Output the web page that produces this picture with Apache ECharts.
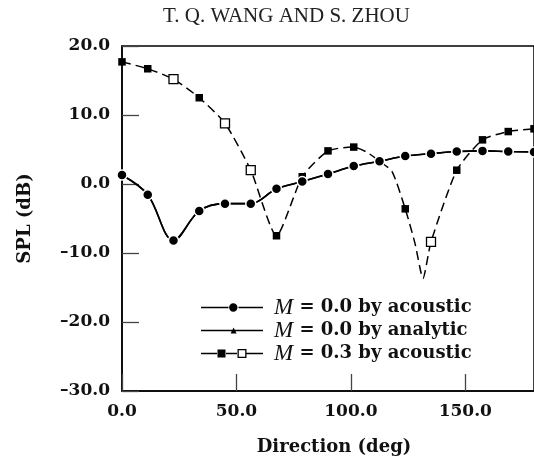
<!DOCTYPE html>
<html>
<head>
<meta charset="utf-8">
<title>SPL vs direction</title>
<script src="https://cdn.jsdelivr.net/npm/echarts@6/dist/echarts.min.js"></script>
<style>
    html, body { margin: 0; padding: 0; background: #fff; }
    #chart { width: 534px; height: 463px; }
</style>
</head>
<body>
<div id="chart"></div>
<script>
// direction (deg) of the measured points
const directions = [0, 11.25, 22.5, 33.75, 45, 56.25, 67.5, 78.75, 90, 101.25, 112.5, 123.75, 135, 146.25, 157.5, 168.75, 180];
// M = 0.0, acoustic analogy (circles)
const acousticM0 = [1.3, -1.55, -8.2, -3.9, -2.85, -2.85, -0.7, 0.35, 1.45, 2.6, 3.3, 4.05, 4.4, 4.7, 4.8, 4.7, 4.65];
// M = 0.0, analytic solution (solid line, lies on top of the acoustic curve)
const analyticM0 = [1.3, -1.55, -8.2, -3.9, -2.85, -2.85, -0.7, 0.35, 1.45, 2.6, 3.3, 4.05, 4.4, 4.7, 4.8, 4.7, 4.65];
// M = 0.3, acoustic analogy: curve, with marker kind per point
const directionsM3 = [0, 11.25, 22.5, 33.75, 45, 56.25, 67.5, 78.75, 90, 101.25, 107, 112.5, 118, 123.75, 128, 131.5, 135, 146.25, 157.5, 168.75, 180];
const acousticM3 = [17.7, 16.7, 15.2, 12.5, 8.8, 2.0, -7.5, 1.05, 4.8, 5.35, 4.6, 3.3, 1.8, -3.6, -8.6, -13.7, -8.4, 2.0, 6.4, 7.6, 8.0];
const markersM3 = ['filled', 'filled', 'open', 'filled', 'open', 'open', 'filled', 'filled', 'filled', 'filled', 'none', 'none', 'none', 'filled', 'none', 'none', 'open', 'filled', 'filled', 'filled', 'filled'];

const seriesNames = ['M = 0.0 by acoustic', 'M = 0.0 by analytic', 'M = 0.3 by acoustic'];
const xTicks = { min: 0, max: 180, interval: 50 };
const yTicks = { min: -30, max: 20, interval: 10 };

const serif = 'DejaVu Serif';

// legend keys drawn as paths: line + marker, like the printed key
const legendIcons = [
    'path://M0,6.25h27.5v1.5h-27.5z M28.1,7a4.2,4.2 0 1 0 8.4,0a4.2,4.2 0 1 0 -8.4,0z M37.5,6.25h24.5v1.5h-24.5z',
    'path://M0,6.25h62v1.5h-62z M29.6,9.9L32.6,4.1L35.6,9.9z',
    'path://M0,6.25h16v1.5h-16z M16.5,3h8v8h-8z M25,6.25h11v1.5h-11z M36.5,2.5h9v9h-9z M37.8,3.8v6.4h6.4v-6.4z M45.5,6.25h16.5v1.5h-16.5z'
];

const fmt = (v) => (v < 0 ? '\u2013' + Math.abs(v).toFixed(1) : v.toFixed(1));

const pairs = (xs, ys) => xs.map((x, i) => [x, ys[i]]);

const m3Data = directionsM3.map((x, i) => {
    const kind = markersM3[i];
    if (kind === 'none') {
        return { value: [x, acousticM3[i]], symbol: 'none' };
    }
    if (kind === 'open') {
        return {
            value: [x, acousticM3[i]],
            symbol: 'rect',
            symbolSize: 9,
            itemStyle: { color: '#fff', borderColor: '#000', borderWidth: 1.3 }
        };
    }
    return { value: [x, acousticM3[i]], symbol: 'rect', symbolSize: 7.5, itemStyle: { color: '#000' } };
});

const chart = echarts.init(document.getElementById('chart'), null, { renderer: 'canvas' });

const option = {
    backgroundColor: '#fff',
    animation: false,
    title: {
        text: 'T. Q. WANG AND S. ZHOU',
        left: 158,
        top: 1,
        textStyle: {
            fontFamily: 'Liberation Serif',
            fontWeight: 'normal',
            fontSize: 21,
            color: '#222'
        }
    },
    grid: {
        left: 122,
        right: -2,
        top: 46,
        bottom: 72,
        show: true,
        borderColor: '#000',
        borderWidth: 1.5,
        containLabel: false
    },
    legend: {
        orient: 'vertical',
        left: 201,
        top: 296,
        padding: 0,
        itemGap: 0,
        itemWidth: 62,
        itemHeight: 14,
        selectedMode: false,
        itemStyle: { borderWidth: 0 },
        data: seriesNames.map((name, i) => ({ name: name, icon: legendIcons[i] })),
        formatter: (name) => name.replace(/^M/, '{i|M}'),
        textStyle: {
            fontFamily: serif,
            fontWeight: 'bold',
            fontSize: 18,
            lineHeight: 21,
            color: '#111',
            padding: [0, 0, 0, 6],
            rich: {
                i: {
                    fontFamily: 'Liberation Serif',
                    fontStyle: 'italic',
                    fontWeight: 'normal',
                    fontSize: 23,
                    lineHeight: 21,
                    color: '#111'
                }
            }
        }
    },
    xAxis: {
        type: 'value',
        min: xTicks.min,
        max: xTicks.max,
        interval: xTicks.interval,
        name: 'Direction (deg)',
        nameLocation: 'middle',
        nameGap: 47,
        nameTextStyle: {
            fontFamily: serif,
            fontWeight: 'bold',
            fontSize: 18,
            color: '#111',
            padding: [0, 0, 0, 12]
        },
        axisLine: { onZero: false, lineStyle: { color: '#000', width: 1.5 } },
        axisTick: { inside: true, length: 17, lineStyle: { color: '#444', width: 1.3 } },
        axisLabel: {
            margin: 12,
            showMaxLabel: false,
            formatter: fmt,
            fontFamily: serif,
            fontWeight: 'bold',
            fontSize: 17,
            color: '#111'
        },
        splitLine: { show: false }
    },
    yAxis: {
        type: 'value',
        min: yTicks.min,
        max: yTicks.max,
        interval: yTicks.interval,
        name: 'SPL (dB)',
        nameLocation: 'middle',
        nameGap: 88,
        nameTextStyle: {
            fontFamily: serif,
            fontWeight: 'bold',
            fontSize: 18,
            color: '#111'
        },
        axisLine: { onZero: false, lineStyle: { color: '#000', width: 1.5 } },
        axisTick: { inside: true, length: 17, lineStyle: { color: '#444', width: 1.3 } },
        axisLabel: {
            margin: 12,
            formatter: fmt,
            fontFamily: serif,
            fontWeight: 'bold',
            fontSize: 17,
            color: '#111'
        },
        splitLine: { show: false }
    },
    series: [
        {
            name: seriesNames[2],
            type: 'line',
            z: 2,
            smooth: 0.2,
            data: m3Data,
            color: '#000',
            lineStyle: { color: '#000', width: 1.5, type: [9, 5] }
        },
        {
            name: seriesNames[1],
            type: 'line',
            z: 3,
            smooth: 0.35,
            symbol: 'triangle',
            showSymbol: false,
            data: pairs(directions, analyticM0),
            color: '#000',
            lineStyle: { color: '#000', width: 1.6 }
        },
        {
            name: seriesNames[0],
            type: 'line',
            z: 4,
            smooth: 0.35,
            symbol: 'circle',
            symbolSize: 10,
            data: pairs(directions, acousticM0),
            color: '#000',
            itemStyle: { color: '#000', borderColor: '#fff', borderWidth: 1.5 },
            lineStyle: { color: '#000', width: 1.6 }
        }
    ]
};

chart.setOption(option);
</script>
</body>
</html>
